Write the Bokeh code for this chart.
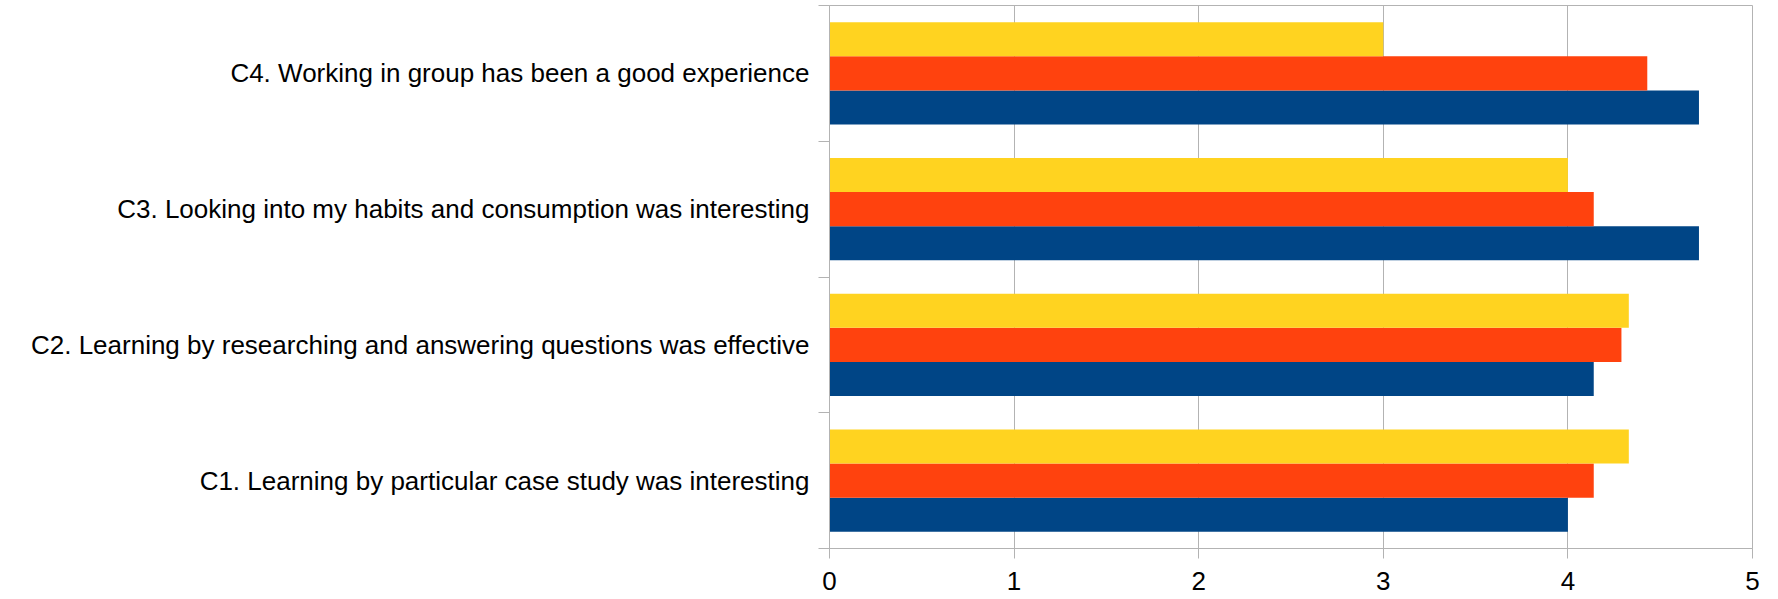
from bokeh.plotting import figure
from bokeh.models import FixedTicker, Range1d
from bokeh.embed import file_html
from bokeh.resources import INLINE

categories = [
    "C1. Learning by particular case study was interesting",
    "C2. Learning by researching and answering questions was effective",
    "C3. Looking into my habits and consumption was interesting",
    "C4. Working in group has been a good experience",
]
series_blue = [4.0, 4.14, 4.71, 4.71]
series_red = [4.14, 4.29, 4.14, 4.43]
series_yellow = [4.33, 4.33, 4.0, 3.0]
x_ticks = [0, 1, 2, 3, 4, 5]

colors = ["#004586", "#ff420e", "#ffd320"]
bar_h = 0.251
offsets = [-bar_h, 0.0, bar_h]

p = figure(
    output_backend="svg", toolbar_location=None,
    frame_width=923, frame_height=543,
    min_border_left=829, min_border_right=20, min_border_top=5, min_border_bottom=50,
    x_range=Range1d(0, 5), y_range=Range1d(0, len(categories)),
)
p.background_fill_color = "white"
p.border_fill_color = "white"
p.outline_line_color = "#b3b3b3"
p.outline_line_width = 1

centers = [i + 0.5 for i in range(len(categories))]
for vals, col, off in zip([series_blue, series_red, series_yellow], colors, offsets):
    p.hbar(y=[c + off for c in centers], right=vals, left=0, height=bar_h,
           fill_color=col, line_color=None)

# x axis
p.xaxis.ticker = FixedTicker(ticks=x_ticks)
p.xaxis.axis_line_color = "#b3b3b3"
p.xaxis.major_tick_line_color = "#b3b3b3"
p.xaxis.major_tick_out = 10
p.xaxis.major_tick_in = 0
p.xaxis.minor_tick_line_color = None
p.xaxis.major_label_text_font = "Liberation Sans"
p.xaxis.major_label_text_font_size = "26px"
p.xaxis.major_label_text_color = "black"
p.xaxis.major_label_standoff = 13

# y axis
p.yaxis.ticker = FixedTicker(ticks=centers, minor_ticks=list(range(len(categories) + 1)))
p.yaxis.major_label_overrides = {c: lab for c, lab in zip(centers, categories)}
p.yaxis.axis_line_color = "#b3b3b3"
p.yaxis.major_tick_line_color = None
p.yaxis.major_tick_out = 0
p.yaxis.major_tick_in = 0
p.yaxis.minor_tick_line_color = "#b3b3b3"
p.yaxis.minor_tick_out = 11
p.yaxis.minor_tick_in = 0
p.yaxis.major_label_text_font = "Liberation Sans"
p.yaxis.major_label_text_font_size = "26px"
p.yaxis.major_label_text_color = "black"
p.yaxis.major_label_standoff = 9

p.xgrid.grid_line_color = "#b3b3b3"
p.xgrid.ticker = FixedTicker(ticks=x_ticks)
p.ygrid.grid_line_color = None

open("out.html", "w").write(file_html(p, INLINE))
